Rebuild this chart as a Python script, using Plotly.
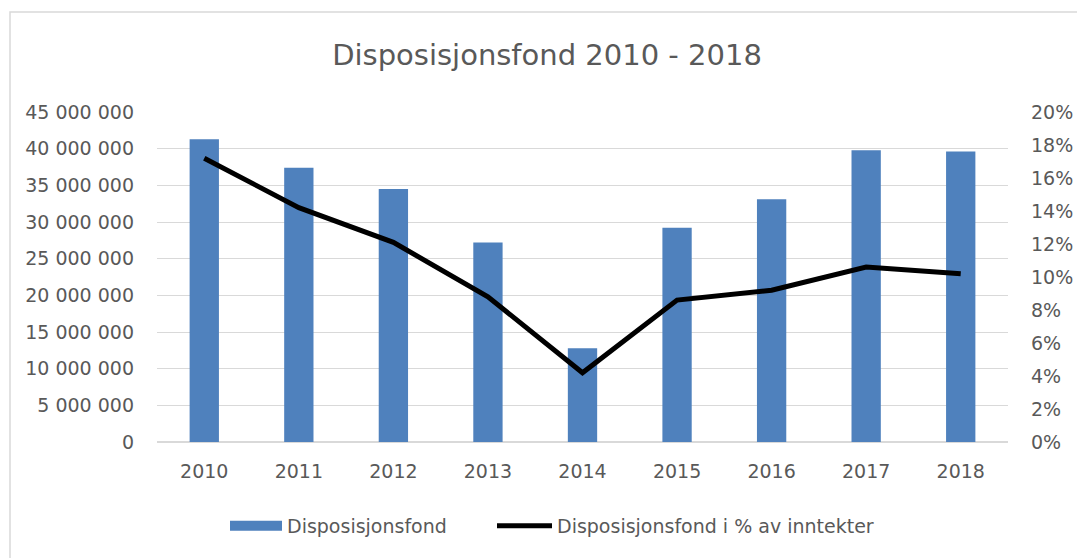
import plotly.graph_objects as go

years = ["2010", "2011", "2012", "2013", "2014", "2015", "2016", "2017", "2018"]
fond = [41300000, 37400000, 34500000, 27200000, 12800000, 29200000, 33100000, 39800000, 39600000]
pct = [0.172, 0.142, 0.121, 0.088, 0.042, 0.086, 0.092, 0.106, 0.102]

y_ticks = list(range(0, 45000001, 5000000))
y2_ticks = [i / 100 for i in range(0, 21, 2)]

FONT = "DejaVu Sans"
GREY = "#595959"
GRID = "#D9D9D9"
BLUE = "#4F81BD"

fig = go.Figure()
fig.add_trace(go.Bar(x=years, y=fond, name="Disposisjonsfond", legendgroup="fond",
                     showlegend=False,
                     marker=dict(color=BLUE, line=dict(width=0)), yaxis="y"))
# legend-only entry with a wide swatch, like the original
fig.add_trace(go.Scatter(x=[None], y=[None], name="Disposisjonsfond", legendgroup="fond",
                         mode="lines", line=dict(color=BLUE, width=14), yaxis="y",
                         legend="legend", hoverinfo="skip"))
fig.add_trace(go.Scatter(x=years, y=pct, name="Disposisjonsfond i % av inntekter",
                         mode="lines", line=dict(color="#000000", width=5), yaxis="y2",
                         legend="legend2"))

L, R, T, B = 157, 69, 112, 116
W, H = 1077, 558
pw = W - L - R
ph = H - T - B

def px_x(x):
    return (x - L) / pw

def px_y(y):
    return (H - B - y) / ph

leg_common = dict(orientation="h", xanchor="left", yanchor="middle",
                  font=dict(size=19, color=GREY),
                  bgcolor="rgba(0,0,0,0)")

fig.update_layout(
    width=W, height=H,
    margin=dict(l=L, r=R, t=T, b=B, pad=0, autoexpand=False),
    paper_bgcolor="white", plot_bgcolor="white",
    separators=", ",
    font=dict(family=FONT, size=19, color=GREY),
    title=dict(text="Disposisjonsfond 2010 - 2018", x=547 / W, y=1 - 55 / H,
               xref="container", yref="container", xanchor="center", yanchor="middle",
               font=dict(family=FONT, size=29, color=GREY)),
    bargap=0.69,
    xaxis=dict(type="category", showgrid=False, showline=False, ticks="", automargin=False,
               ticklabelstandoff=16, tickfont=dict(size=19, color=GREY)),
    yaxis=dict(range=[0, 45000000], tickvals=y_ticks, tickformat=",d", automargin=False,
               showgrid=True, gridcolor=GRID, gridwidth=1.3,
               zeroline=True, zerolinecolor=GRID, zerolinewidth=1.5,
               showline=False, ticks="", ticklabelstandoff=22,
               tickfont=dict(size=19, color=GREY)),
    yaxis2=dict(range=[0, 0.2], tickvals=y2_ticks, tickformat=".0%", automargin=False,
                overlaying="y", side="right", showgrid=False, zeroline=False,
                showline=False, ticks="", ticklabelstandoff=22,
                tickfont=dict(size=19, color=GREY)),
    legend=dict(x=px_x(225), y=px_y(526), itemwidth=52, **leg_common),
    legend2=dict(x=px_x(492), y=px_y(526), itemwidth=55, **leg_common),
    shapes=[dict(type="rect", xref="paper", yref="paper",
                 x0=px_x(10), x1=px_x(1095), y0=px_y(575), y1=px_y(12),
                 line=dict(color=GRID, width=1.5), fillcolor="rgba(0,0,0,0)", layer="below")],
    showlegend=True,
)

fig.write_html("out.html", config={"displayModeBar": False},
               post_script="document.body.style.margin='0';")
